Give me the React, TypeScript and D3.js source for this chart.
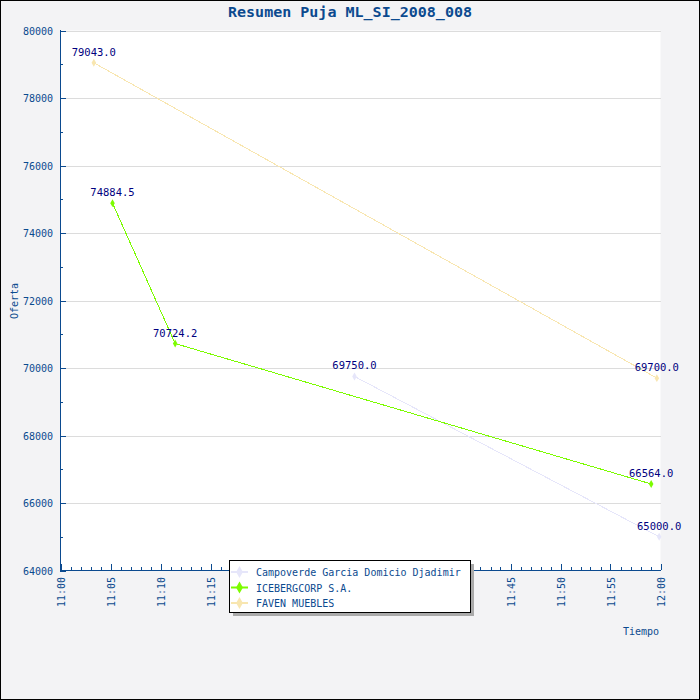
import React, { useEffect, useRef } from "react";
import * as d3 from "d3";

// Bid summary: one time/value series per bidder
const seriesNames = ["Campoverde Garcia Domicio Djadimir", "ICEBERGCORP S.A.", "FAVEN MUEBLES"];
const seriesColors = ["#E6E6FA", "#7CFC00", "#F8E6B0"];

const campoverdeTimes = ["11:29:24", "11:59:52"];
const campoverdeValues = [69750.0, 65000.0];

const icebergTimes = ["11:05:12", "11:11:28", "11:59:04"];
const icebergValues = [74884.5, 70724.2, 66564.0];

const favenTimes = ["11:03:20", "11:59:38"];
const favenValues = [79043.0, 69700.0];

const xTickLabels = ["11:00", "11:05", "11:10", "11:15", "11:20", "11:25", "11:30", "11:35", "11:40", "11:45", "11:50", "11:55", "12:00"];
const yTicks = [64000, 66000, 68000, 70000, 72000, 74000, 76000, 78000, 80000];

const W = 700;
const H = 700;
const axisColor = "#0b4a8f";
const mono = "'DejaVu Sans Mono', monospace";

export default function App() {
  const ref = useRef<SVGSVGElement>(null);

  useEffect(() => {
    document.body.style.margin = "0";
    const parse = d3.timeParse("%H:%M:%S");
    const svg = d3.select(ref.current);
    svg.selectAll("*").remove();

    const x = d3
      .scaleTime()
      .domain([parse("11:00:00")!, parse("12:00:00")!])
      .range([60.5, 660.5]);
    const y = d3.scaleLinear().domain([64000, 80000]).range([570.5, 30.5]);

    // background + frame
    svg.append("rect").attr("x", 0.5).attr("y", 0.5).attr("width", W - 1).attr("height", H - 1)
      .attr("fill", "#f3f3f5").attr("stroke", "#000");
    svg.append("rect").attr("x", 60.5).attr("y", 30.5).attr("width", 600).attr("height", 540).attr("fill", "#fff");

    // gridlines
    svg.selectAll(".grid").data(yTicks.slice(1)).enter().append("line")
      .attr("x1", 61).attr("x2", 661)
      .attr("y1", (d) => Math.round(y(d)) + 0.5).attr("y2", (d) => Math.round(y(d)) + 0.5)
      .attr("stroke", "#dcdcdc");

    // title
    svg.append("text").attr("x", 350).attr("y", 17).attr("text-anchor", "middle")
      .attr("font-family", mono).attr("font-size", 14).attr("font-weight", "bold")
      .attr("fill", axisColor).attr("textLength", 244).attr("lengthAdjust", "spacingAndGlyphs")
      .text("Resumen Puja ML_SI_2008_008");

    // y axis
    const g = svg.append("g");
    g.append("line").attr("x1", 60.5).attr("x2", 60.5).attr("y1", 30).attr("y2", 571).attr("stroke", axisColor);
    const yMinor = d3.range(64000, 80001, 1000);
    g.selectAll(".ytick").data(yMinor).enter().append("line")
      .attr("x1", 60).attr("x2", (d) => (d % 2000 === 0 ? 66 : 63))
      .attr("y1", (d) => Math.round(y(d)) + 0.5).attr("y2", (d) => Math.round(y(d)) + 0.5)
      .attr("stroke", axisColor);
    g.selectAll(".ylab").data(yTicks).enter().append("text")
      .attr("x", 53).attr("y", (d) => y(d) + 4).attr("text-anchor", "end")
      .attr("font-family", mono).attr("font-size", 10).attr("fill", axisColor)
      .text((d) => d3.format("d")(d));
    svg.append("text").attr("transform", "translate(18,301) rotate(-90)").attr("text-anchor", "middle")
      .attr("font-family", mono).attr("font-size", 10).attr("fill", axisColor).text("Oferta");

    // x axis
    g.append("line").attr("x1", 60).attr("x2", 661).attr("y1", 570.5).attr("y2", 570.5).attr("stroke", axisColor);
    const minutes = d3.range(0, 61);
    g.selectAll(".xtick").data(minutes).enter().append("line")
      .attr("x1", (d) => Math.round(x(d3.timeMinute.offset(parse("11:00:00")!, d))) + 0.5)
      .attr("x2", (d) => Math.round(x(d3.timeMinute.offset(parse("11:00:00")!, d))) + 0.5)
      .attr("y1", 570).attr("y2", (d) => (d % 5 === 0 ? 564 : 567))
      .attr("stroke", axisColor);
    g.selectAll(".xlab").data(xTickLabels).enter().append("text")
      .attr("transform", (d) => {
        const px = x(parse(d + ":00")!);
        return `translate(${px + 4},577) rotate(-90)`;
      })
      .attr("text-anchor", "end")
      .attr("font-family", mono).attr("font-size", 10).attr("fill", axisColor)
      .text((d) => d);
    svg.append("text").attr("x", 659).attr("y", 635).attr("text-anchor", "end")
      .attr("font-family", mono).attr("font-size", 10).attr("fill", axisColor).text("Tiempo");

    // series
    const series = [
      { times: campoverdeTimes, values: campoverdeValues },
      { times: icebergTimes, values: icebergValues },
      { times: favenTimes, values: favenValues },
    ];
    const line = d3
      .line<[Date, number]>()
      .x((d) => x(d[0]))
      .y((d) => y(d[1]));
    const diamond = d3.symbol().type(d3.symbolDiamond).size(18);

    series.forEach((s, i) => {
      const pts: [Date, number][] = s.times.map((t, j) => [parse(t)!, s.values[j]]);
      const sg = svg.append("g");
      sg.append("path").attr("d", line(pts)).attr("fill", "none").attr("stroke", seriesColors[i])
        .attr("stroke-width", 1).attr("shape-rendering", "crispEdges");
      sg.selectAll("path.m").data(pts).enter().append("path").attr("class", "m")
        .attr("d", diamond).attr("transform", (d) => `translate(${x(d[0])},${y(d[1])})`)
        .attr("fill", seriesColors[i]);
      sg.selectAll("text").data(pts).enter().append("text")
        .attr("x", (d) => x(d[0])).attr("y", (d) => y(d[1]) - 7).attr("text-anchor", "middle")
        .attr("font-family", mono).attr("font-size", 10.5).attr("fill", "#000080")
        .text((d) => d3.format(".1f")(d[1]));
    });

    // legend
    const lg = svg.append("g");
    lg.append("rect").attr("x", 233).attr("y", 564).attr("width", 241).attr("height", 52).attr("fill", "#aaa");
    lg.append("rect").attr("x", 229.5).attr("y", 560.5).attr("width", 241).attr("height", 52)
      .attr("fill", "#fff").attr("stroke", "#000");
    seriesNames.forEach((name, i) => {
      const ly = 572 + i * 15.5;
      lg.append("line").attr("x1", 231).attr("x2", 248).attr("y1", ly).attr("y2", ly)
        .attr("stroke", seriesColors[i]).attr("stroke-width", 2);
      lg.append("path").attr("d", d3.symbol().type(d3.symbolDiamond).size(40)())
        .attr("transform", `translate(239.5,${ly})`).attr("fill", seriesColors[i]);
      lg.append("text").attr("x", 256).attr("y", ly + 4)
        .attr("font-family", mono).attr("font-size", 10).attr("fill", axisColor).text(name);
    });
  }, []);

  return <svg ref={ref} width={W} height={H} style={{ display: "block" }} />;
}
